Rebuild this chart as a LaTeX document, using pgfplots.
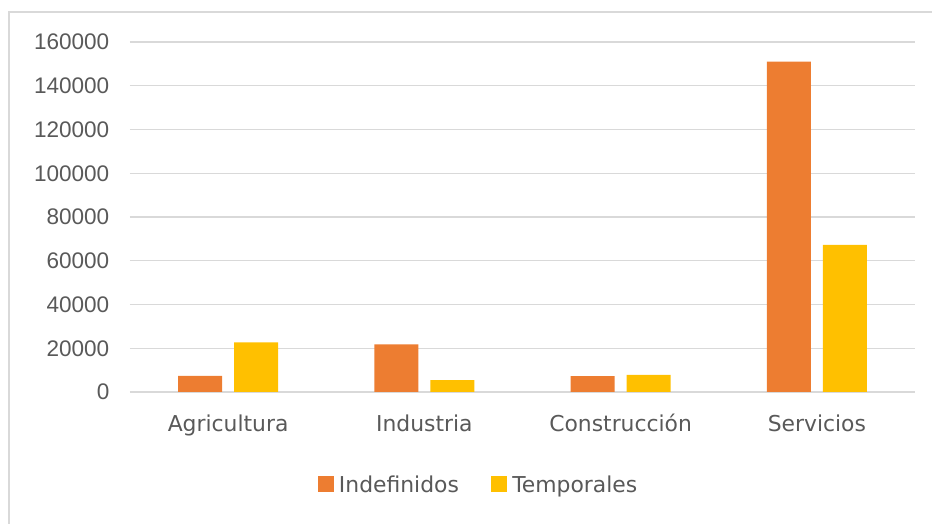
\documentclass[border=0pt]{standalone}
\usepackage{fontspec}
\setmainfont{Liberation Sans}
\newfontfamily\catfont{DejaVu Sans}
\usepackage{pgfplots}
\pgfplotsset{compat=1.18}
\definecolor{indef}{HTML}{ED7D31}
\definecolor{temp}{HTML}{FFC000}
\definecolor{gridc}{HTML}{D9D9D9}
\definecolor{txt}{HTML}{595959}

\pgfplotstableread{
x indef temp
0 7400 22700
1 21800 5400
2 7200 7800
3 151000 67300
}\datos

\begin{document}
\begin{tikzpicture}
\begin{axis}[
    scale only axis,
    width=588.75pt,
    height=262.5pt,
    ybar=9pt,
    bar width=33pt,
    xmin=-0.5, xmax=3.5,
    ymin=0, ymax=160000,
    ytick distance=20000,
    xtick=data,
    xticklabels={Agricultura, Industria, Construcción, Servicios},
    scaled y ticks=false,
    /pgf/number format/.cd, fixed, set thousands separator={}, assume math mode=true,
    /pgfplots/.cd,
    ymajorgrids,
    grid style={gridc, line width=0.9pt},
    axis line style={draw=none},
    tick style={draw=none},
    tick label style={font=\fontsize{16.9}{18}\selectfont, text=txt},
    yticklabel style={xshift=-12pt},
    xticklabel style={yshift=-9pt, font=\catfont\fontsize{16.4}{18}\selectfont},
    legend style={at={(0.446,-0.266)}, anchor=center, draw=none,
        font=\catfont\fontsize{16.4}{18}\selectfont, text=txt,
        /tikz/every even column/.append style={column sep=20pt},
        /tikz/every odd column/.append style={column sep=0pt},
        nodes={inner xsep=4pt}},
    legend columns=2,
    legend image code/.code={\fill[#1] (0pt,-5pt) rectangle (12pt,7pt);},
]
\addplot[fill=indef, draw=none] table[x=x, y=indef] {\datos};
\addlegendentry{Indefinidos}
\addplot[fill=temp, draw=none] table[x=x, y=temp] {\datos};
\addlegendentry{Temporales}
\end{axis}
\path[use as bounding box] (-97.5pt,-99pt) rectangle (601.5pt,294pt);
\draw[gridc, line width=1pt] (-90.75pt,-110pt) -- (-90.75pt,285pt) -- (610pt,285pt);
\end{tikzpicture}
\end{document}
